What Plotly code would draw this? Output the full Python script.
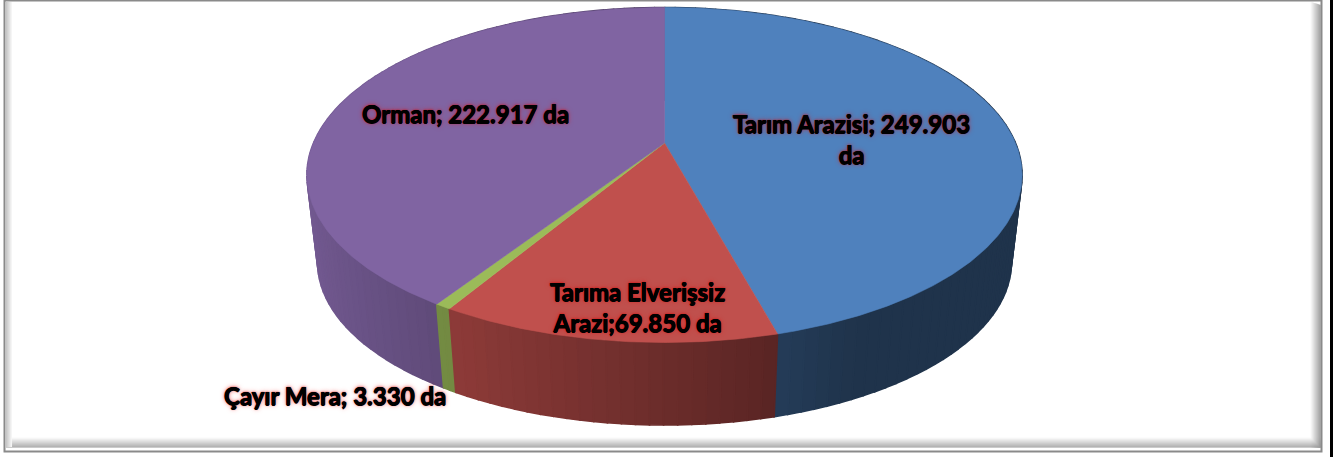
import numpy as np
import plotly.graph_objects as go

# ---------------- data ----------------
categories = ["Tarım Arazisi", "Tarıma Elverişsiz Arazi", "Çayır Mera", "Orman"]
values = [249903, 69850, 3330, 222917]
label_texts = ["Tarım Arazisi; 249.903<br>da",
               "Tarıma Elverişsiz<br>Arazi;69.850 da",
               "Çayır Mera; 3.330 da",
               "Orman; 222.917 da"]

# ---------------- style ----------------
colors = ["#4F81BD", "#C0504D", "#9BBB59", "#8064A2"]
label_pos = [(851, 139), (637, 307), (335, 395), (465, 113)]   # pixel positions of labels

W, H = 1333, 457
CX, CY0 = 664.5, 143.0          # projected pie centre (apex)
A, B, K = 351.0, 161.4, 0.191   # perspective ellipse parameters
BOT_SCALE, BOT_DROP = 0.97, 88.5


def proj(theta_deg, r=1.0, bottom=False):
    t = np.radians(theta_deg)
    u = r * np.sin(t)
    v = r * np.cos(t)
    w = 1 + K * v
    s = BOT_SCALE if bottom else 1.0
    x = CX + s * A * u / w
    y = CY0 + (BOT_DROP if bottom else 0.0) - s * B * v / w
    return x, y


def hex_rgb(h):
    h = h.lstrip("#")
    return tuple(int(h[i:i + 2], 16) for i in (0, 2, 4))


def shade(h, f):
    r, g, b = hex_rgb(h)
    return "rgb(%d,%d,%d)" % (min(255, r * f), min(255, g * f), min(255, b * f))


total = float(sum(values))
bounds = np.concatenate([[0.0], np.cumsum(values) / total * 360.0])

fig = go.Figure()

# ---- side strips (back to front) ----
strips = []
for i in range(len(values)):
    a0, a1 = bounds[i], bounds[i + 1]
    n = max(1, int(np.ceil((a1 - a0) / 2.0)))
    edges = np.linspace(a0, a1, n + 1)
    for j in range(n):
        t0, t1 = edges[j], edges[j + 1]
        ts = np.linspace(t0, t1, 4)
        xt, yt = proj(ts)
        xb, yb = proj(ts[::-1], bottom=True)
        tm = np.radians((t0 + t1) / 2)
        um, vm = np.sin(tm), np.cos(tm)
        f = max(0.40, 0.56 - 0.35 * um)
        strips.append((vm, np.concatenate([xt, xb, xt[:1]]),
                       np.concatenate([yt, yb, yt[:1]]), shade(colors[i], f)))
strips.sort(key=lambda s: -s[0])
for vm, xs, ys, c in strips:
    fig.add_trace(go.Scatter(x=xs, y=ys, mode="lines", fill="toself",
                             fillcolor=c, line=dict(color=c, width=1.6),
                             hoverinfo="skip", showlegend=False))

# ---- top faces ----
for i in range(len(values)):
    a0, a1 = bounds[i], bounds[i + 1]
    ts = np.linspace(a0, a1, max(3, int((a1 - a0) / 0.5) + 2))
    xa, ya = proj(ts)
    xs = np.concatenate([[CX], xa, [CX]])
    ys = np.concatenate([[CY0], ya, [CY0]])
    fig.add_trace(go.Scatter(x=xs, y=ys, mode="lines", fill="toself",
                             fillcolor=colors[i], line=dict(color=colors[i], width=0.6),
                             hoverinfo="skip", showlegend=False, name=categories[i]))

# ---- labels ----
glow = ("0.5px 0 0 #000, -0.5px 0 0 #000, 0 0.5px 0 #000, "
        "0 0 2px rgba(200,0,0,0.85), 0 0 5px rgba(240,0,0,0.6)")
for txt, (lx, ly) in zip(label_texts, label_pos):
    fig.add_annotation(x=lx, y=ly, xref="x", yref="y", text=txt, showarrow=False,
                       align="center",
                       font=dict(family="Lato", size=24, color="black", weight="bold",
                                 shadow=glow))

# ---- frame ----
shapes = []
# black strip at far right
shapes.append(dict(type="rect", x0=1330, x1=1334, y0=-1, y1=458, fillcolor="black",
                   line=dict(width=0), layer="above"))
# inner bevel shading (right and bottom)
for k in range(10):
    g = int(250 - k * 11)
    col = "rgb(%d,%d,%d)" % (g, g, g)
    shapes.append(dict(type="line", x0=1311 + k, x1=1311 + k, y0=2 + k * 0.3, y1=448,
                       line=dict(color=col, width=1.2), layer="above"))
    shapes.append(dict(type="line", x0=6, x1=1321, y0=438 + k, y1=438 + k,
                       line=dict(color=col, width=1.2), layer="above"))
# left light bevel
for k in range(6):
    g = int(200 + k * 9)
    col = "rgb(%d,%d,%d)" % (g, g, g)
    shapes.append(dict(type="line", x0=6.5 + k, x1=6.5 + k, y0=2, y1=447,
                       line=dict(color=col, width=1.1), layer="above"))
# outer border
shapes.append(dict(type="rect", x0=4.5, x1=1321.5, y0=0.5, y1=451.5,
                   line=dict(color="#8a8a8a", width=2), fillcolor="rgba(0,0,0,0)",
                   layer="above"))

fig.update_layout(
    width=W, height=H, margin=dict(l=0, r=0, t=0, b=0),
    paper_bgcolor="white", plot_bgcolor="white",
    xaxis=dict(range=[0, W], visible=False, fixedrange=True),
    yaxis=dict(range=[H, 0], visible=False, fixedrange=True),
    shapes=shapes, showlegend=False,
)

fig.write_html("out.html", config={"displayModeBar": False},
               post_script="document.body.style.margin='0';document.body.style.overflow='hidden';")
